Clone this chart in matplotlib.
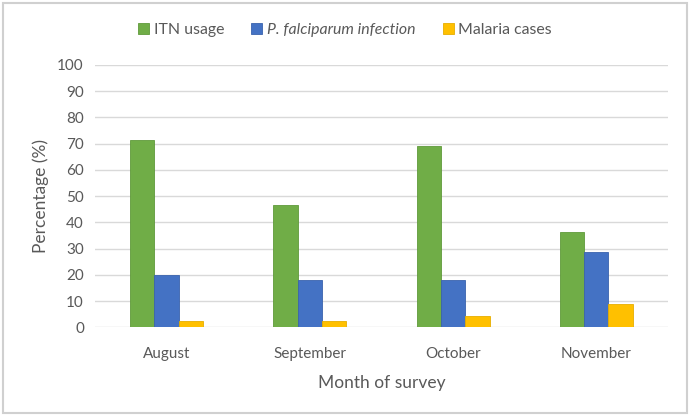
import numpy as np
import matplotlib.pyplot as plt
from matplotlib.patches import Rectangle

months = ["August", "September", "October", "November"]
itn_usage = [71.4, 46.8, 69.1, 36.2]
pf_infection = [20.1, 18.1, 18.1, 28.7]
malaria_cases = [2.5, 2.5, 4.4, 9.0]

plt.rcParams['font.family'] = ['Lato', 'DejaVu Sans']
txt = '#595959'

fig = plt.figure(figsize=(6.9, 4.15), dpi=100)
ax = fig.add_axes([0.1377, 0.2113, 0.8303, 0.6321])

x = np.arange(len(months))
w = 0.17
ax.bar(x - w, itn_usage, w, color='#70AD47', edgecolor='#5f9a3a', linewidth=0.6,
       label='ITN usage', zorder=3)
ax.bar(x, pf_infection, w, color='#4472C4', edgecolor='#3a63ad', linewidth=0.6,
       label='P. falciparum infection', zorder=3)
ax.bar(x + w, malaria_cases, w, color='#FFC000', edgecolor='#e6ad00', linewidth=0.6,
       label='Malaria cases', zorder=3)

ax.set_xlim(-0.5, 3.5)
ax.set_ylim(0, 100)
ax.set_yticks(np.arange(0, 101, 10))
ax.set_xticks(x)
ax.set_xticklabels(months)
ax.grid(axis='y', color='#d9d9d9', linewidth=1, zorder=0)
for s in ax.spines.values():
    s.set_visible(False)
ax.tick_params(length=0, labelsize=11, colors=txt, pad=8)
ax.tick_params(axis='x', pad=14)
ax.set_xlabel("Month of survey", fontsize=12.5, color=txt, labelpad=10)
ax.set_ylabel("Percentage (%)", fontsize=12.5, color=txt, labelpad=6)

leg = fig.legend(loc='center', bbox_to_anchor=(0.5, 0.928), ncol=3, frameon=False,
                 fontsize=11.4, handlelength=0.7, handleheight=0.7, handletextpad=0.3,
                 columnspacing=1.7)
for t in leg.get_texts():
    t.set_color(txt)
leg.get_texts()[1].set_style('italic')

fig.patches.append(Rectangle((0.004, 0.006), 0.992, 0.987, transform=fig.transFigure,
                             fill=False, edgecolor='#d0d0d0', linewidth=1.5))

fig.savefig("out.png", dpi=100)
